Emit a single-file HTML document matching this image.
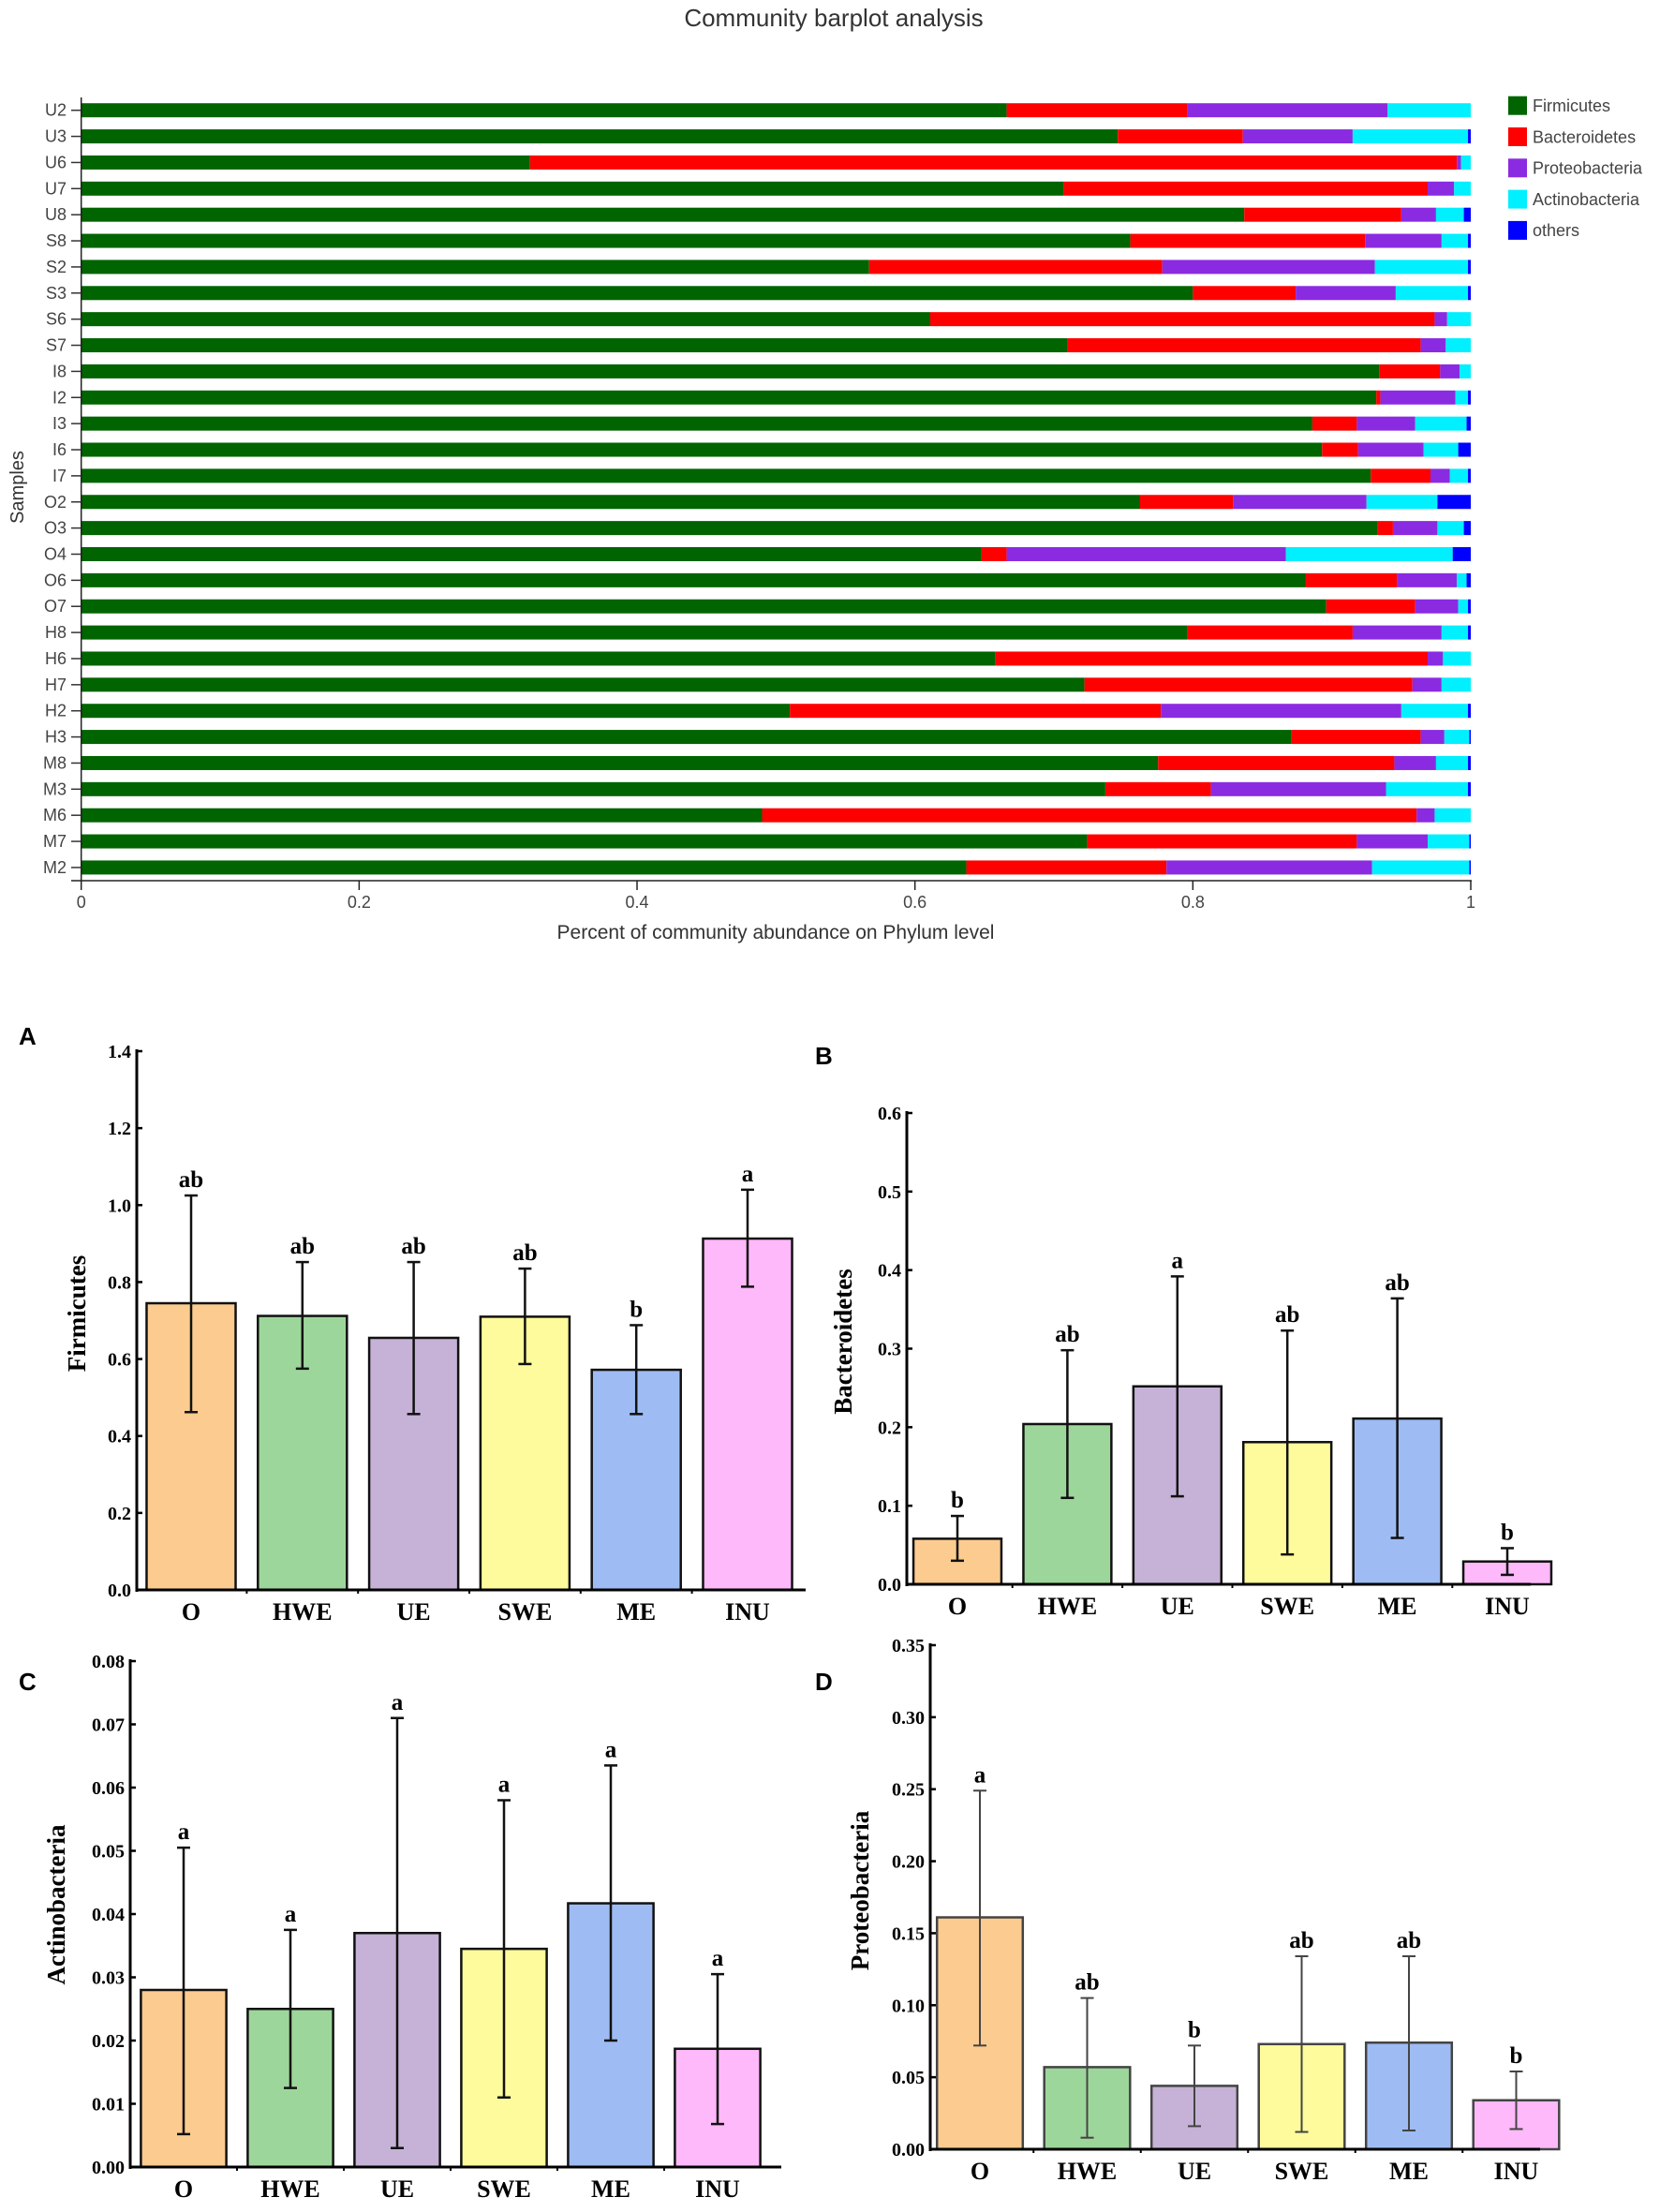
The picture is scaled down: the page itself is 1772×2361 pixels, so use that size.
<!DOCTYPE html>
<html><head><meta charset="utf-8">
<style>
html,body{margin:0;padding:0;background:#fff;}
svg{display:block;}
</style></head>
<body>
<svg id="root" width="1772" height="2361" viewBox="0 0 1772 2361" xmlns="http://www.w3.org/2000/svg">
<text x="890" y="28" text-anchor="middle" font-family="Liberation Sans, sans-serif" font-size="26" fill="#333">Community barplot analysis</text>
<g id="top"></g>
<g id="panels"></g>
</svg>
<script>
// ---------- Top stacked chart data ----------
const samples = ["U2","U3","U6","U7","U8","S8","S2","S3","S6","S7","I8","I2","I3","I6","I7","O2","O3","O4","O6","O7","H8","H6","H7","H2","H3","M8","M3","M6","M7","M2"];
const firmicutes = [.666,.746,.323,.707,.837,.755,.567,.800,.611,.710,.934,.932,.886,.893,.928,.762,.933,.648,.881,.896,.796,.658,.722,.510,.871,.775,.737,.490,.724,.637];
const bacteroidetes = [.130,.090,.667,.262,.113,.169,.211,.074,.363,.254,.044,.003,.032,.026,.043,.067,.011,.018,.066,.064,.119,.311,.236,.267,.093,.170,.076,.471,.194,.144];
const proteobacteria = [.144,.079,.003,.019,.025,.055,.153,.072,.009,.018,.014,.054,.042,.047,.014,.096,.032,.201,.043,.031,.064,.011,.021,.173,.017,.030,.126,.013,.051,.148];
const actinobacteria = [.060,.083,.007,.012,.020,.019,.067,.052,.017,.018,.008,.009,.037,.025,.013,.051,.019,.120,.007,.007,.019,.020,.021,.048,.018,.023,.059,.026,.030,.070];
const others = [0,.002,0,0,.005,.002,.002,.002,0,0,0,.002,.003,.009,.002,.024,.005,.013,.003,.002,.002,0,0,.002,.001,.002,.002,0,.001,.001];
const phylumNames = ["Firmicutes","Bacteroidetes","Proteobacteria","Actinobacteria","others"];
const xTicks = [0,0.2,0.4,0.6,0.8,1];
const xTickLabels = ["0","0.2","0.4","0.6","0.8","1"];

// ---------- Panel data ----------
const groups = ["O","HWE","UE","SWE","ME","INU"];
const firmMean = [0.745,0.712,0.655,0.710,0.572,0.913];
const firmLow = [0.462,0.575,0.457,0.587,0.457,0.788];
const firmHigh = [1.025,0.852,0.852,0.835,0.688,1.040];
const firmLetters = ["ab","ab","ab","ab","b","a"];
const bactMean = [0.058,0.204,0.252,0.181,0.211,0.029];
const bactLow = [0.030,0.110,0.112,0.038,0.059,0.012];
const bactHigh = [0.087,0.298,0.392,0.323,0.364,0.046];
const bactLetters = ["b","ab","a","ab","ab","b"];
const actMean = [0.028,0.025,0.037,0.0345,0.0417,0.0187];
const actLow = [0.0052,0.0125,0.003,0.011,0.020,0.0068];
const actHigh = [0.0505,0.0375,0.071,0.058,0.0635,0.0305];
const actLetters = ["a","a","a","a","a","a"];
const protMean = [0.161,0.057,0.044,0.073,0.074,0.034];
const protLow = [0.072,0.008,0.016,0.012,0.013,0.014];
const protHigh = [0.249,0.105,0.072,0.134,0.134,0.054];
const protLetters = ["a","ab","b","ab","ab","b"];
const firmTicks = [0,0.2,0.4,0.6,0.8,1.0,1.2,1.4];
const bactTicks = [0,0.1,0.2,0.3,0.4,0.5,0.6];
const actTicks = [0,0.01,0.02,0.03,0.04,0.05,0.06,0.07,0.08];
const protTicks = [0,0.05,0.10,0.15,0.20,0.25,0.30,0.35];

const NS = "http://www.w3.org/2000/svg";
function mk(tag, attrs, parent){const e=document.createElementNS(NS,tag);for(const k in attrs)e.setAttribute(k,attrs[k]);parent.appendChild(e);return e;}

// ---------- draw top ----------
(function(){
  const g = document.getElementById('top');
  const x0=86.7, x1=1570, yFirst=117.7, step=27.87, bh=15;
  const xs = v => x0 + v*(x1-x0);
  const ys = i => yFirst + i*step;
  const series=[firmicutes,bacteroidetes,proteobacteria,actinobacteria,others];
  const colors=["#006400","#ff0000","#8a2be2","#00f0ff","#0000ff"];
  samples.forEach((s,i)=>{
    let acc=0;
    series.forEach((arr,k)=>{
      const v=arr[i]; if(v<=0){return;}
      const r=mk('rect',{x:xs(acc),y:ys(i)-bh/2,width:Math.max(0.5,xs(acc+v)-xs(acc)),height:bh,fill:colors[k]},g);
      
      
      acc+=v;
    });
    const t=mk('text',{x:71,y:ys(i)+6,'text-anchor':'end','font-family':'Liberation Sans, sans-serif','font-size':18,fill:'#444'},g);
    t.textContent=s;
    
    
    mk('line',{x1:76,x2:86.7,y1:ys(i),y2:ys(i),stroke:'#333','stroke-width':1.5},g);
  });
  const ax=mk('line',{x1:86.7,x2:86.7,y1:104,y2:941,stroke:'#222','stroke-width':1.5},g);
  
  const bx=mk('line',{x1:76,x2:1571,y1:940,y2:940,stroke:'#222','stroke-width':1.5},g);
  
  xTicks.forEach((v,i)=>{
    mk('line',{x1:xs(v),x2:xs(v),y1:940,y2:950,stroke:'#222','stroke-width':1.5},g);
    const t=mk('text',{x:xs(v),y:969,'text-anchor':'middle','font-family':'Liberation Sans, sans-serif','font-size':18,fill:'#444'},g);
    t.textContent=xTickLabels[i];
    
    
  });
  const xt=mk('text',{x:828,y:1002,'text-anchor':'middle','font-family':'Liberation Sans, sans-serif','font-size':21,fill:'#333'},g);
  xt.textContent='Percent of community abundance on Phylum level';
  
  const yt=mk('text',{x:0,y:0,transform:'translate(25,520) rotate(-90)','text-anchor':'middle','font-family':'Liberation Sans, sans-serif','font-size':20,fill:'#333'},g);
  yt.textContent='Samples';
  
  phylumNames.forEach((n,k)=>{
    const lg=mk('g',{},g);
    
    
    mk('rect',{x:1610,y:102.7+k*33.3,width:20,height:20,fill:colors[k]},lg);
    const t=mk('text',{x:1636,y:119+k*33.3,'font-family':'Liberation Sans, sans-serif','font-size':18,fill:'#444'},lg);
    t.textContent=n;
  });
})();

// ---------- panels ----------
const fills=["#fccb8f","#9dd69a","#c5b2d6","#fdfb9b","#9ebcf3","#fdb9f9"];
function panel(o){
  const g=mk('g',{},document.getElementById('panels'));
  
  
  const ys=v=>o.y0+(o.y1-o.y0)*(v-o.tmin)/(o.tmax-o.tmin);
  const xc=i=>o.cx0+i*o.step;
  const bw=o.step*0.8;
  const F='Liberation Serif, serif';
  const L=mk('text',{x:o.lx,y:o.ly,'font-family':'Liberation Sans, sans-serif','font-size':26,'font-weight':'bold',fill:'#000'},g);
  L.textContent=o.id;
  
  groups.forEach((gr,i)=>{
    const r=mk('rect',{x:xc(i)-bw/2,y:ys(o.mean[i]),width:bw,height:o.y0-ys(o.mean[i]),fill:fills[i],stroke:o.stroke,'stroke-width':2.5},g);
    
    
    const eb=mk('g',{stroke:o.estroke,'stroke-width':o.ew},g);
    
    
    mk('line',{x1:xc(i),x2:xc(i),y1:ys(o.low[i]),y2:ys(o.high[i])},eb);
    mk('line',{x1:xc(i)-7,x2:xc(i)+7,y1:ys(o.low[i]),y2:ys(o.low[i])},eb);
    mk('line',{x1:xc(i)-7,x2:xc(i)+7,y1:ys(o.high[i]),y2:ys(o.high[i])},eb);
    const lt=mk('text',{x:xc(i),y:ys(o.high[i])-9,'text-anchor':'middle','font-family':F,'font-size':25,'font-weight':'bold',fill:'#000'},g);
    lt.textContent=o.letters[i];
    
    
    const ct=mk('text',{x:xc(i),y:o.y0+32,'text-anchor':'middle','font-family':F,'font-size':26,'font-weight':'bold',fill:'#000'},g);
    ct.textContent=gr;
    
    
    if(i<groups.length-1) mk('line',{x1:xc(i)+o.step/2,x2:xc(i)+o.step/2,y1:o.y0,y2:o.y0+4,stroke:'#000','stroke-width':2},g);
  });
  const ax=mk('line',{x1:o.ax,x2:o.ax,y1:o.y1-2,y2:o.y0+2,stroke:'#000','stroke-width':3},g);
  
  const bx=mk('line',{x1:o.ax,x2:o.xend,y1:o.y0,y2:o.y0,stroke:'#000','stroke-width':3},g);
  
  o.ticks.forEach(v=>{
    mk('line',{x1:o.ax,x2:o.ax+6,y1:ys(v),y2:ys(v),stroke:'#000','stroke-width':2.5},g);
    const t=mk('text',{x:o.ax-6,y:ys(v)+7,'text-anchor':'end','font-family':F,'font-size':20,'font-weight':'bold',fill:'#000'},g);
    t.textContent=v.toFixed(o.dec);
    
    
  });
  const yt=mk('text',{x:0,y:0,transform:'translate('+o.tx+','+o.ty+') rotate(-90)','text-anchor':'middle','font-family':F,'font-size':27,'font-weight':'bold',fill:'#000'},g);
  yt.textContent=o.title;
  
}
panel({id:'A',lx:20,ly:1115,ax:146,y0:1697,y1:1122,tmin:0,tmax:1.4,cx0:204,step:118.8,xend:860,mean:firmMean,low:firmLow,high:firmHigh,letters:firmLetters,ticks:firmTicks,dec:1,title:'Firmicutes',tx:91,ty:1402,stroke:'#111',estroke:'#111',ew:2.5});
panel({id:'B',lx:870,ly:1136,ax:968,y0:1691,y1:1188,tmin:0,tmax:0.6,cx0:1022,step:117.4,xend:1634,mean:bactMean,low:bactLow,high:bactHigh,letters:bactLetters,ticks:bactTicks,dec:1,title:'Bacteroidetes',tx:909,ty:1432,stroke:'#111',estroke:'#111',ew:2.5});
panel({id:'C',lx:20,ly:1804,ax:139,y0:2313,y1:1773,tmin:0,tmax:0.08,cx0:196,step:114,xend:834,mean:actMean,low:actLow,high:actHigh,letters:actLetters,ticks:actTicks,dec:2,title:'Actinobacteria',tx:69,ty:2033,stroke:'#111',estroke:'#111',ew:2.5});
panel({id:'D',lx:870,ly:1804,ax:993,y0:2294,y1:1756,tmin:0,tmax:0.35,cx0:1046,step:114.5,xend:1644,mean:protMean,low:protLow,high:protHigh,letters:protLetters,ticks:protTicks,dec:2,title:'Proteobacteria',tx:927,ty:2018,stroke:'#444',estroke:'#444',ew:2});
</script>
</body></html>
